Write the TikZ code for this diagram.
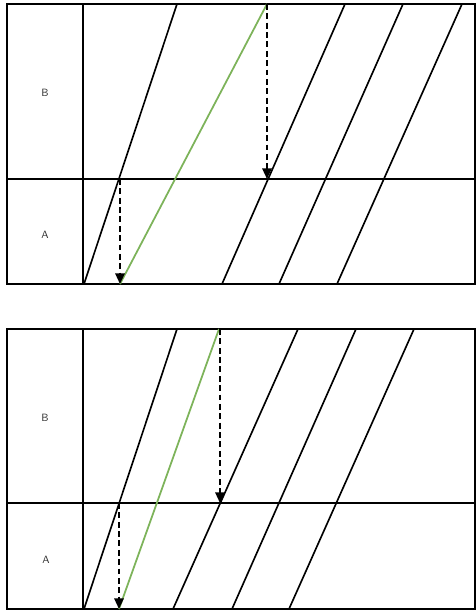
\documentclass[tikz,border=0pt]{standalone}
\usepackage{tikz}
\usetikzlibrary{arrows.meta}
\definecolor{pathgreen}{HTML}{7DB35A}
\definecolor{labelgray}{HTML}{333333}

\begin{document}
\begin{tikzpicture}[x=0.03cm, y=-0.03cm, line width=1.4pt,
  lbl/.style={font=\sffamily\small, text=labelgray},
  drop/.style={-{Triangle[width=8pt,length=9pt]}, dash pattern=on 5pt off 3pt},
  hit/.style={pathgreen, line width=1.5pt}]
  \useasboundingbox (0,0) rectangle (476,612);
  % upper panel
  \draw (7,4) rectangle (475,284);
  \draw (83,4) -- (83,284);
  \draw (7,179) -- (475,179);
  \node[lbl] (bA) at (45,93) {B};
  \node[lbl] (aA) at (45,235) {A};
  \draw (84,284) -- (177,4);
  \foreach \x/\t in {222/345, 279/403, 337/462}
    \draw (\x,284) -- (\t,4);
  \draw[hit] (120,284) -- (267,4);
  \coordinate (sA) at (120,179); \coordinate (eA) at (120,284);
  \coordinate (sB) at (267,4);   \coordinate (eB) at (267,179);
  \draw[drop] (sA) -- (eA);
  \draw[drop] (sB) -- (eB);
  % lower panel
  \draw (7,329) rectangle (475,609);
  \draw (83,329) -- (83,609);
  \draw (7,503) -- (475,503);
  \node[lbl] (bB) at (45,418) {B};
  \node[lbl] (aB) at (46,560) {A};
  \draw (84,609) -- (177,329);
  \foreach \x/\t in {173/298, 232/356, 289/414}
    \draw (\x,609) -- (\t,329);
  \draw[hit] (119,609) -- (219,329);
  \coordinate (sC) at (119,503); \coordinate (eC) at (119,609);
  \coordinate (sD) at (220,329); \coordinate (eD) at (220,503);
  \draw[drop] (sC) -- (eC);
  \draw[drop] (sD) -- (eD);
\end{tikzpicture}
\end{document}
